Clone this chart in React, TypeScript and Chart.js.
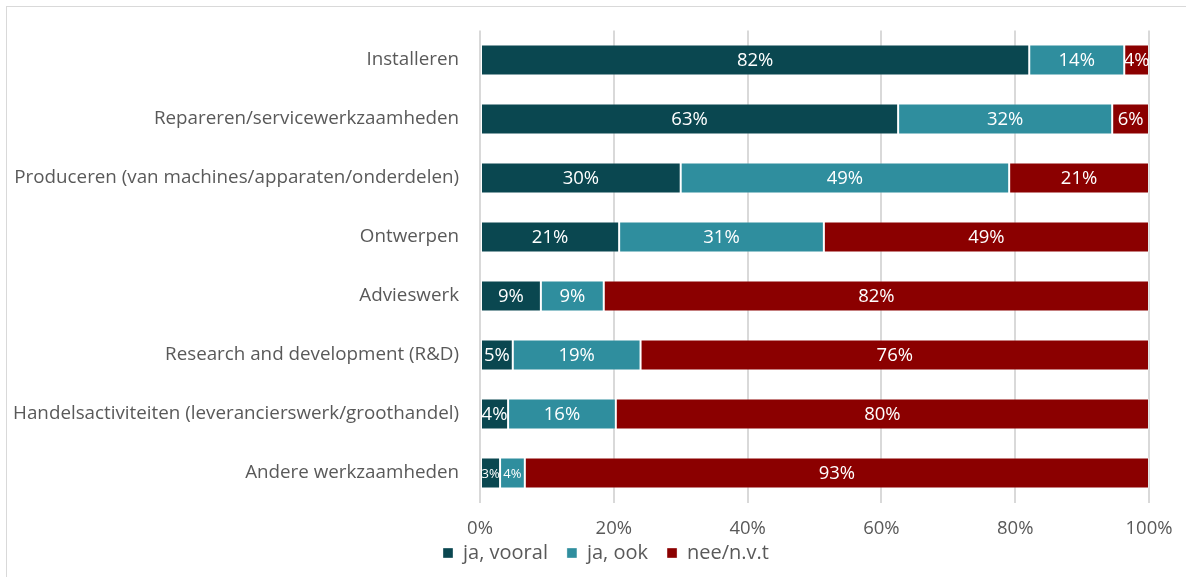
import React, { useEffect, useRef } from "react";
import { Chart, registerables } from "chart.js";

Chart.register(...registerables);

const categories = [
  "Installeren",
  "Repareren/servicewerkzaamheden",
  "Produceren (van machines/apparaten/onderdelen)",
  "Ontwerpen",
  "Advieswerk",
  "Research and development (R&D)",
  "Handelsactiviteiten (leverancierswerk/groothandel)",
  "Andere werkzaamheden",
];

const seriesNames = ["ja, vooral", "ja, ook", "nee/n.v.t"];
const jaVooral = [82.1, 62.5, 30.0, 20.8, 9.1, 4.9, 4.2, 3.0];
const jaOok = [14.2, 32.0, 49.1, 30.6, 9.4, 19.1, 16.1, 3.7];
const neeNvt = [3.7, 5.5, 20.9, 48.6, 81.5, 76.0, 79.7, 93.3];
const xTicks = [0, 20, 40, 60, 80, 100];

const COLORS = ["#0a4750", "#2f8e9e", "#8b0000"];
const TEXT = "#595959";
const FONT = "'Open Sans', sans-serif";
const SMALL_LABEL_CATEGORY = "Andere werkzaamheden";

const labelPlugin = {
  id: "barLabels",
  afterDatasetsDraw(chart: any) {
    const ctx = chart.ctx;
    ctx.save();
    ctx.fillStyle = "#ffffff";
    ctx.textAlign = "center";
    ctx.textBaseline = "middle";
    chart.data.datasets.forEach((ds: any, di: number) => {
      const meta = chart.getDatasetMeta(di);
      meta.data.forEach((el: any, i: number) => {
        const v = ds.data[i];
        const small = chart.data.labels[i] === SMALL_LABEL_CATEGORY && v < 10;
        ctx.font = `${small ? 13 : 18.5}px ${FONT}`;
        const cx = (el.x + el.base) / 2;
        ctx.fillText(`${Math.round(v)}%`, cx, el.y + 1);
      });
    });
    ctx.restore();
  },
};

export default function App() {
  const ref = useRef<HTMLCanvasElement>(null);
  useEffect(() => {
    if (!ref.current) return;
    const chart = new Chart(ref.current, {
      type: "bar",
      data: {
        labels: categories,
        datasets: [jaVooral, jaOok, neeNvt].map((d, i) => ({
          label: seriesNames[i],
          data: d,
          backgroundColor: COLORS[i],
          borderColor: "rgba(255,255,255,0.35)",
          borderWidth: 1,
          borderSkipped: false,
          barPercentage: 0.525,
          categoryPercentage: 1,
        })),
      },
      options: {
        indexAxis: "y",
        responsive: false,
        animation: false,
        layout: { padding: { top: 23.5, right: 58, left: 56, bottom: 19 } },
        plugins: {
          legend: {
            position: "bottom",
            labels: {
              boxWidth: 10,
              boxHeight: 10,
              padding: 19,
              color: TEXT,
              font: { family: FONT, size: 20 },
            },
          },
          tooltip: { enabled: false },
        },
        scales: {
          x: {
            stacked: true,
            min: 0,
            max: 100,
            afterBuildTicks(scale: any) {
              scale.ticks = xTicks.map((v) => ({ value: v }));
            },
            afterFit(scale: any) {
              scale.height = 21.5;
              scale._computeLabelArea = () => undefined;
            },
            ticks: {
              color: TEXT,
              font: { family: FONT, size: 18.5 },
              padding: 15,
              callback: (v: any) => `${v}%`,
            },
            grid: { color: "#d9d9d9", lineWidth: 2, drawTicks: false },
            border: { display: false },
          },
          y: {
            stacked: true,
            afterFit(scale: any) {
              scale.width = 417;
              scale.paddingTop = 0;
              scale.paddingBottom = 0;
              scale._computeLabelArea = () => undefined;
            },
            ticks: {
              color: TEXT,
              font: { family: FONT, size: 18.8 },
              padding: 21,
            },
            grid: { display: false, drawTicks: false },
            border: { display: false },
          },
        },
      },
      plugins: [labelPlugin],
    } as any);
    return () => chart.destroy();
  }, []);

  return (
    <div style={{ position: "fixed", left: 0, top: 0, width: "100vw", height: "100vh", overflow: "hidden", background: "#fff" }}>
      <div style={{ position: "absolute", left: 6, top: 6, border: "1px solid #d9d9d9", width: 1200, height: 585 }}>
        <canvas ref={ref} width={1200} height={585} style={{ display: "block" }} />
      </div>
    </div>
  );
}
